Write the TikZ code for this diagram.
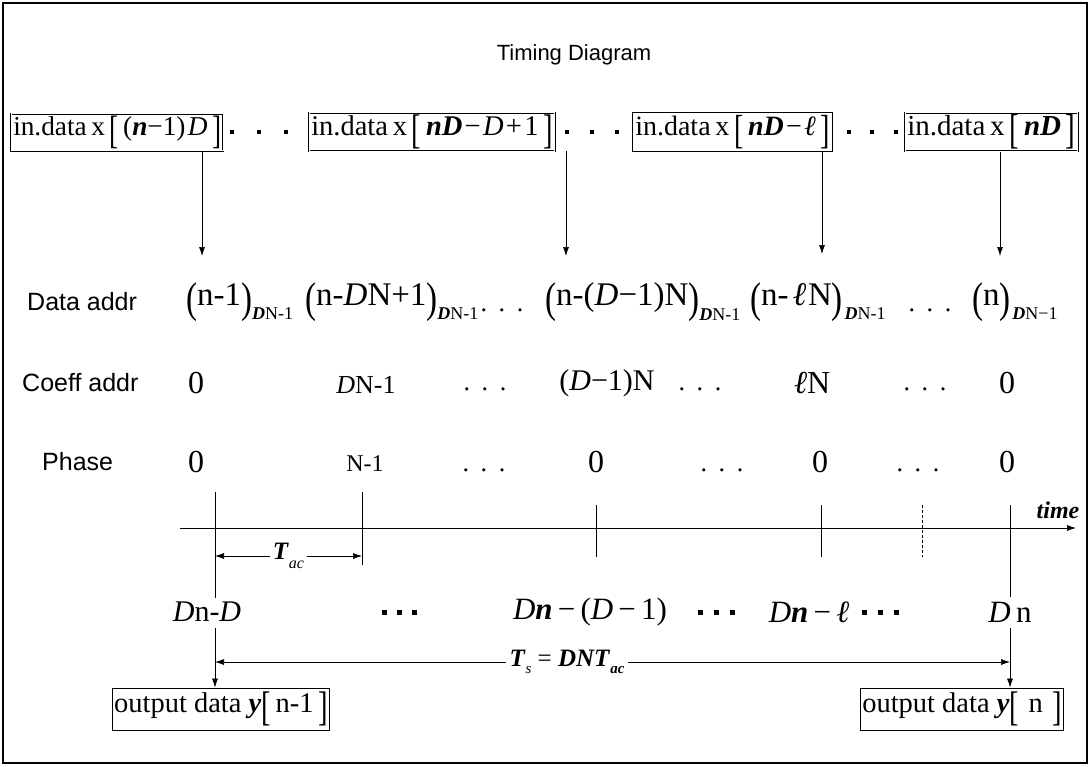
\documentclass[tikz,border=0pt]{standalone}
\usepackage{fontspec}
\setmainfont{Liberation Serif}
\newfontfamily\sansf{Liberation Sans}
\usetikzlibrary{arrows.meta}
\newcommand\LB{\raisebox{-.28em}{\scalebox{1}[1.45]{[}}\,}
\newcommand\RB{\,\raisebox{-.28em}{\scalebox{1}[1.45]{]}}}
\newcommand\LP{\raisebox{-.22em}{\scalebox{1}[1.3]{(}}}
\newcommand\RP{\raisebox{-.22em}{\scalebox{1}[1.3]{)}}}
\newcommand\bi[1]{\textbf{\textit{#1}}}
\newcommand\dsub[1]{\raisebox{-.45em}{\fontsize{18}{18}\selectfont #1}}
\newcommand\sz[1]{\fontsize{#1}{#1}\selectfont}
\newcommand\eldots{.\hspace{.45em}.\hspace{.45em}.}
\newcommand\hs{\hspace{.08em}}
\tikzset{
  lab/.style={font=\sansf\sz{25}, inner sep=0pt, anchor=west},
  topbox/.style={draw, double, double distance=1pt, line width=.5pt, font=\sz{28}, inner sep=2pt, minimum height=37pt, anchor=west},
  outbox/.style={draw, line width=.8pt, font=\sz{28.5}, inner sep=2pt, minimum height=42pt},
  da/.style={font=\sz{33}, inner sep=0pt},
  row/.style={font=\sz{30}, inner sep=0pt},
  sq/.style={fill, minimum size=4.5pt, inner sep=0pt},
  arr/.style={-{Latex[length=9pt,width=6pt]}, line width=.7pt},
  darr/.style={{Latex[length=9pt,width=6pt]}-{Latex[length=9pt,width=6pt]}, line width=.7pt},
  tick/.style={line width=.7pt},
}
\begin{document}
\begin{tikzpicture}[x=1pt,y=-1pt]
\useasboundingbox (0,0) rectangle (1091,766);
\draw[line width=2pt] (3,3) rectangle (1087,763);
\node[font=\sansf\sz{22}] (title) at (574,55) {Timing Diagram};

% top boxes
\node[topbox, font=\sz{27.3}] (b1) at (11,132) {in.data\,x\,\LB(\bi{n}−1)\hs\textit{D}\RB};
\node[topbox, font=\sz{28.5}] (b2) at (309,132) {in.data\,x\,\LB\bi{nD}\hs−\hs\textit{D}\hs+\hs1\RB};
\node[topbox] (b3) at (633,132) {in.data\,x\,\LB\bi{nD}\hs−\hs\textit{ℓ}\RB};
\node[topbox, font=\sz{29}] (b4) at (905,132) {in.data\,x\,\LB\bi{nD}\RB};
\node[sq] (q1) at (232,132) {};
\node[sq] (q2) at (259,132) {};
\node[sq] (q3) at (286,132) {};
\node[sq] (q4) at (567,132) {};
\node[sq] (q5) at (592,132) {};
\node[sq] (q6) at (617,132) {};
\node[sq] (q7) at (849,132) {};
\node[sq] (q8) at (872,132) {};
\node[sq] (q9) at (896,132) {};

% data addr row
\node[lab] (ldata) at (27,302) {Data addr};
\node[da, anchor=west] (da1) at (186,302) {\LP n-1\RP\dsub{\bi{D}N-1}};
\node[da, anchor=west] (da2) at (305,302) {\LP n-\textit{D}N+1\RP\dsub{\bi{D}N-1}};
\node[da] (dd1) at (502,310) {\sz{26}\eldots};
\node[da, anchor=west] (da3) at (545,302) {\LP n-(\textit{D}−1)N\RP\dsub{\bi{D}N-1}};
\node[da, anchor=west] (da4) at (750,302) {\LP n-\hspace{.12em}\textit{ℓ}\hspace{.05em}N\RP\dsub{\hspace{.1em}\bi{D}N-1}};
\node[da] (dd2) at (930,310) {\sz{26}\eldots};
\node[da, anchor=west] (da5) at (972,302) {\LP n\RP\dsub{\hspace{.1em}\bi{D}N−1}};
\coordinate (t1) at (202,256);
\coordinate (t2) at (566,256);
\coordinate (t3) at (822,254);
\coordinate (t4) at (1000,256);
\draw[arr] (b1.south -| t1) -- (t1);
\draw[arr] (b2.south -| t2) -- (t2);
\draw[arr] (b3.south -| t3) -- (t3);
\draw[arr] (b4.south -| t4) -- (t4);

% coeff addr row
\node[lab] (lcoef) at (22,383) {Coeff addr};
\node[row, font=\sz{32}] (c1) at (196,383) {0};
\node[row, font=\sz{26}] (c2) at (366,385) {\textit{D}N-1};
\node[row, font=\sz{26}] (c3) at (485,389) {\eldots};
\node[row, font=\sz{30}] (c4) at (607,383) {(\textit{D}−1)N};
\node[row, font=\sz{26}] (c5) at (700,389) {\eldots};
\node[row, font=\sz{32}] (c6) at (812,383) {\textit{ℓ}N};
\node[row, font=\sz{26}] (c7) at (925,389) {\eldots};
\node[row, font=\sz{32}] (c8) at (1007,383) {0};

% phase row
\node[lab] (lphase) at (42,462) {Phase};
\node[row, font=\sz{32}] (p1) at (196,462) {0};
\node[row, font=\sz{24}] (p2) at (365,464) {N-1};
\node[row, font=\sz{26}] (p3) at (484,470) {\eldots};
\node[row, font=\sz{32}] (p4) at (596,462) {0};
\node[row, font=\sz{26}] (p5) at (722,470) {\eldots};
\node[row, font=\sz{32}] (p6) at (820,462) {0};
\node[row, font=\sz{26}] (p7) at (918,470) {\eldots};
\node[row, font=\sz{32}] (p8) at (1007,462) {0};

% time axis
\coordinate (ax0) at (180,528);
\coordinate (ax1) at (1076,528);
\draw[arr] (ax0) -- (ax1);
\node[font=\sz{24}\bfseries\itshape, inner sep=0pt] (time) at (1058,510) {time};
\coordinate (k1) at (215,492);
\coordinate (k2) at (362,492);
\coordinate (k3) at (596,505);
\coordinate (k4) at (821,505);
\coordinate (k5) at (922,505);
\coordinate (k6) at (1010,505);
\draw[tick] (k1) -- ++(0,106);
\draw[tick] (k2) -- ++(0,73);
\draw[tick] (k3) -- ++(0,52);
\draw[tick] (k4) -- ++(0,52);
\draw[tick, dash pattern=on 3pt off 2pt] (k5) -- ++(0,52);
\draw[tick] (k6) -- ++(0,92);
\draw[darr] (k1 |- 0,556) -- node[fill=white, inner sep=3pt, font=\sz{25}] (tac) {\bi{T}\raisebox{-.35em}{\sz{16}\textit{ac}}} (k2 |- 0,556);

% Dn row
\node[row] (n1) at (207,612) {\textit{D}n-\textit{D}};
\node[sq, minimum size=5pt] (r1) at (384,612) {};
\node[sq, minimum size=5pt] (r2) at (399,612) {};
\node[sq, minimum size=5pt] (r3) at (414,612) {};
\node[row, font=\sz{31}] (n2) at (590,612) {\textit{D}\bi{n}\,−\,(\textit{D}\,−\,1)};
\node[sq, minimum size=5pt] (r4) at (700,612) {};
\node[sq, minimum size=5pt] (r5) at (716,612) {};
\node[sq, minimum size=5pt] (r6) at (732,612) {};
\node[row, font=\sz{31}] (n3) at (809,612) {\textit{D}\bi{n}\,−\,\textit{ℓ}};
\node[sq, minimum size=5pt] (r7) at (864,612) {};
\node[sq, minimum size=5pt] (r8) at (880,612) {};
\node[sq, minimum size=5pt] (r9) at (896,612) {};
\node[row, font=\sz{31}] (n4) at (1010,612) {\textit{D}\,n};

% Ts arrow
\coordinate (s0) at (215,662);
\coordinate (s1) at (1010,662);
\draw[darr] (s0) -- (s1);
\node[fill=white, inner sep=4pt, font=\sz{25}] (ts) at (567,662) {\bi{T}\raisebox{-.3em}{\sz{15}\textit{s}} = \bi{DNT}\raisebox{-.3em}{\sz{15}\bi{ac}}};

% output boxes
\node[outbox] (o1) at (221,709) {output data \bi{y}\LB n-1\RB};
\node[outbox] (o2) at (962,709) {output data \bi{y}\LB\,n\,\RB};
\draw[arr] (k1 |- 0,628) -- (k1 |- o1.north);
\draw[arr] (k6 |- 0,628) -- (k6 |- o2.north);
\end{tikzpicture}
\end{document}
